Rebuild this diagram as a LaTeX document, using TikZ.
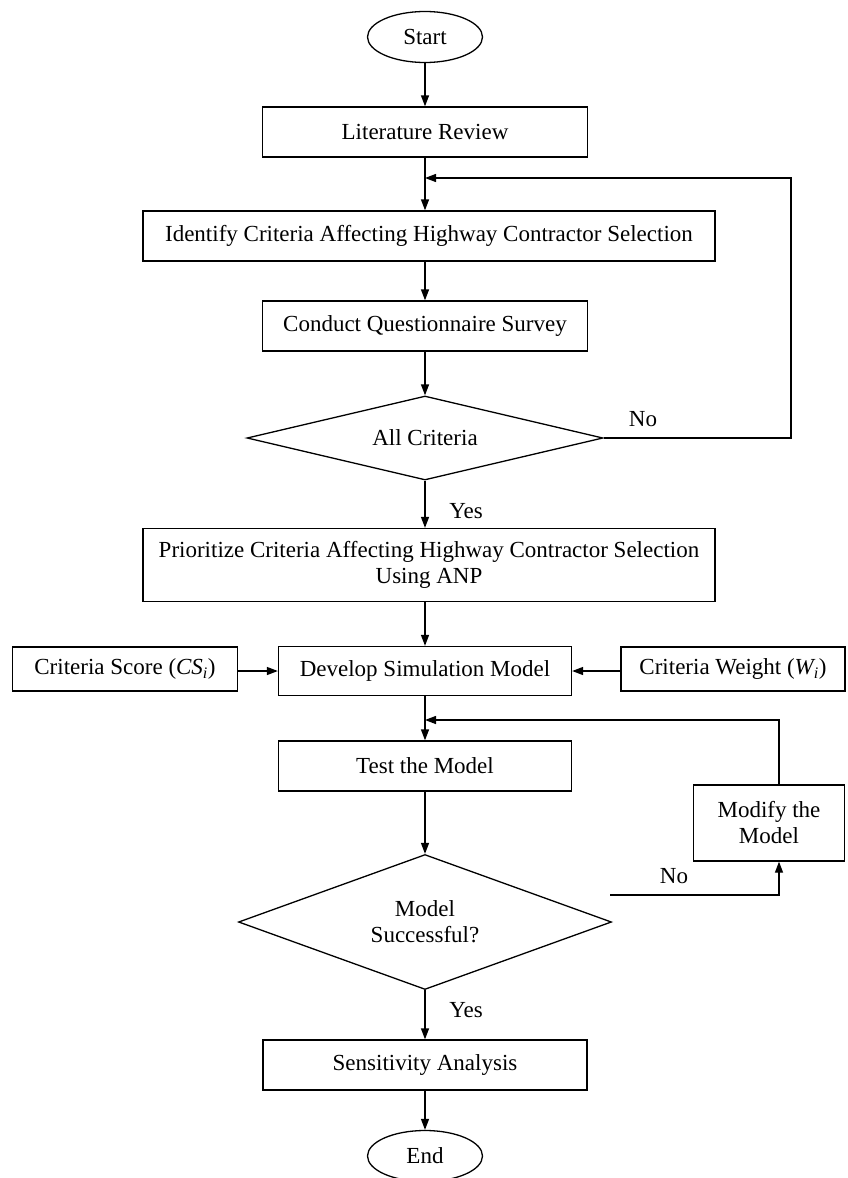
\documentclass[tikz,border=0pt]{standalone}
\usepackage{fontspec}
\setmainfont{Liberation Serif}
\usetikzlibrary{arrows.meta,shapes.geometric}

\begin{document}
\begin{tikzpicture}[x=1pt,y=-1pt,line width=1.3pt,
  >={Triangle[length=11pt,width=8pt]},
  every node/.style={font=\fontsize{23}{26}\selectfont},
  term/.style={draw,ellipse,inner sep=0pt,minimum width=115pt,minimum height=51pt},
  stepbox/.style={draw,rectangle,inner sep=0pt,align=center},
  decide/.style={draw,diamond,inner sep=0pt,align=center},
  lbl/.style={inner sep=0pt}]
\useasboundingbox (0,0) rectangle (847,1178);
\node[term] (start) at (425,37) {Start};
\node[stepbox,minimum width=325pt,minimum height=50pt] (lit) at (425,132) {Literature Review};
\node[stepbox,minimum width=572pt,minimum height=50pt] (ident) at (429,236) {Identify Criteria Affecting Highway Contractor Selection};
\node[stepbox,minimum width=325pt,minimum height=50pt] (survey) at (425,326) {Conduct Questionnaire Survey};
\node[decide,aspect=4.2,minimum width=356pt,minimum height=84pt] (allcrit) at (425,438) {All Criteria};
\node[stepbox,minimum width=572pt,minimum height=73pt] (prio) at (429,565) {Prioritize Criteria Affecting Highway Contractor Selection\\Using ANP};
\node[stepbox,minimum width=293pt,minimum height=49pt] (dev) at (425,671) {Develop Simulation Model};
\node[stepbox,minimum width=225pt,minimum height=44pt] (score) at (125,669) {Criteria Score (\textit{CS\textsubscript{i}})};
\node[stepbox,minimum width=224pt,minimum height=44pt] (weight) at (733,669) {Criteria Weight (\textit{W\textsubscript{i}})};
\node[stepbox,minimum width=293pt,minimum height=50pt] (test) at (425,766) {Test the Model};
\node[stepbox,minimum width=151pt,minimum height=76pt] (modify) at (769,823) {Modify the\\Model};
\node[decide,aspect=2.76,minimum width=373pt,minimum height=135pt] (success) at (425,922) {Model\\Successful?};
\node[stepbox,minimum width=324pt,minimum height=50pt] (sens) at (425,1065) {Sensitivity Analysis};
\node[term] (end) at (425,1156) {End};
\node[lbl] (no1) at (643,419) {No};
\node[lbl] (yes1) at (466,511) {Yes};
\node[lbl] (no2) at (674,876) {No};
\node[lbl] (yes2) at (466,1010) {Yes};
\coordinate (j1) at (425,178);
\coordinate (j2) at (425,720);
\coordinate (loopa) at (791,438);
\coordinate (loopb) at (779,720);
\coordinate (nostart) at (610,895);
\draw[->] (start) -- (lit);
\draw[->] (lit.south) -- (lit.south |- ident.north);
\draw[->] (lit.south |- ident.south) -- (survey.north);
\draw[->] (survey) -- (allcrit);
\draw[->] (allcrit.east) -- (loopa) -- (loopa |- j1) -- (j1);
\draw[->] (allcrit.south) -- (allcrit.south |- prio.north);
\draw[->] (dev.north |- prio.south) -- (dev.north);
\draw[->] (score.east |- dev) -- (dev.west);
\draw[->] (weight.west |- dev) -- (dev.east);
\draw[->] (dev) -- (test);
\draw[->] (loopb |- modify.north) -- (loopb) -- (j2);
\draw[->] (test) -- (success);
\draw[->] (nostart) -- (loopb |- nostart) -- (loopb |- modify.south);
\draw[->] (success) -- (sens);
\draw[->] (sens) -- (end);
\end{tikzpicture}
\end{document}
